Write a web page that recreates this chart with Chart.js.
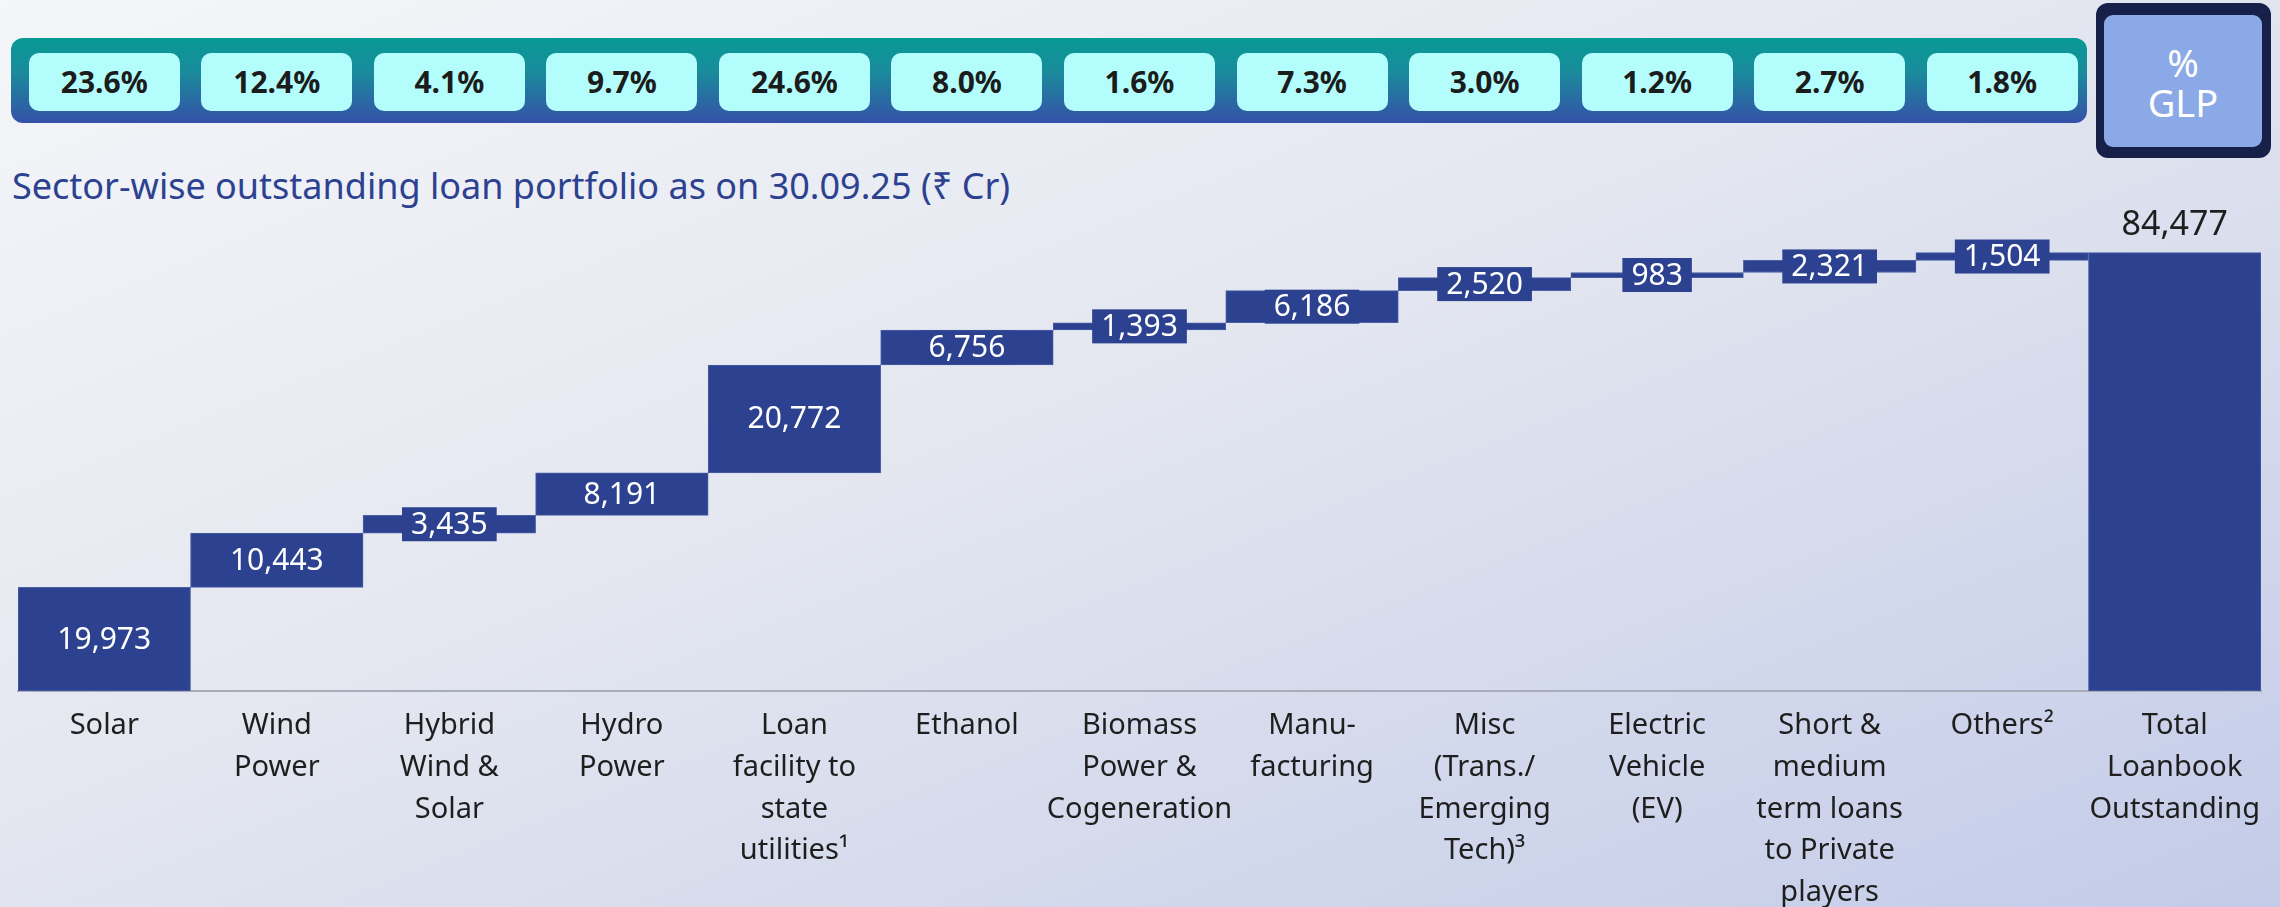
<!DOCTYPE html>
<html lang="en">

<head>
    <meta charset="UTF-8">
    <title>Sector-wise outstanding loan portfolio</title>
    <script src="https://cdn.jsdelivr.net/npm/chart.js"></script>
    <style>
        html, body {
            margin: 0;
            padding: 0;
        }

        body {
            width: 2280px;
            height: 907px;
            position: relative;
            overflow: hidden;
            font-family: "Noto Sans", "DejaVu Sans", sans-serif;
            background: linear-gradient(to bottom right, #f5f6f9 0%, #e4e7f0 45%, #c3cbe8 100%);
        }

        .banner {
            position: absolute;
            left: 11px;
            top: 38px;
            width: 2076px;
            height: 85px;
            border-radius: 12px;
            background: linear-gradient(to bottom, #079a94 0%, #1a8b9c 40%, #3550a8 100%);
        }

        .pill {
            position: absolute;
            top: 53px;
            width: 151px;
            height: 58px;
            border-radius: 10px;
            background: #b3fefc;
            color: #1c1c1c;
            font-weight: bold;
            font-size: 30px;
            line-height: 58px;
            text-align: center;
        }

        .glp {
            position: absolute;
            left: 2096px;
            top: 3px;
            width: 175px;
            height: 155px;
            border-radius: 12px;
            background: #172049;
        }

        .glp-inner {
            position: absolute;
            left: 8px;
            top: 12px;
            width: 158px;
            height: 132px;
            border-radius: 9px;
            background: #8aa9e6;
            color: #fff;
            font-size: 38px;
            line-height: 40px;
            text-align: center;
            padding-top: 27px;
            box-sizing: border-box;
        }

        .title {
            position: absolute;
            left: 12px;
            top: 161px;
            font-size: 36px;
            color: #2c4190;
            white-space: nowrap;
        }

        #grafico {
            position: absolute;
            left: 0;
            top: 0;
        }
    </style>
</head>

<body>
    <div class="banner"></div>
    <div id="pills"></div>
    <div class="glp"><div class="glp-inner">%<br>GLP</div></div>
    <div class="title">Sector-wise outstanding loan portfolio as on 30.09.25 (₹ Cr)</div>
    <canvas id="grafico" width="2280" height="907"></canvas>

    <script>
        // dados do grafico
        var setores = [
            'Solar',
            ['Wind', 'Power'],
            ['Hybrid', 'Wind &', 'Solar'],
            ['Hydro', 'Power'],
            ['Loan', 'facility to', 'state', 'utilities¹'],
            'Ethanol',
            ['Biomass', 'Power &', 'Cogeneration'],
            ['Manu-', 'facturing'],
            ['Misc', '(Trans./', 'Emerging', 'Tech)³'],
            ['Electric', 'Vehicle', '(EV)'],
            ['Short &', 'medium', 'term loans', 'to Private', 'players'],
            'Others²',
            ['Total', 'Loanbook', 'Outstanding']
        ];
        var valores = [19973, 10443, 3435, 8191, 20772, 6756, 1393, 6186, 2520, 983, 2321, 1504];
        var total = 84477;
        var percentGLP = ['23.6%', '12.4%', '4.1%', '9.7%', '24.6%', '8.0%', '1.6%', '7.3%', '3.0%', '1.2%', '2.7%', '1.8%'];

        var corBarra = '#2c4290';

        // monta as barras flutuantes (cascata)
        var barras = [];
        var acumulado = 0;
        for (let i = 0; i < valores.length; i++) {
            barras.push([acumulado, acumulado + valores[i]]);
            acumulado += valores[i];
        }
        barras.push([0, total]);
        var rotulos = valores.concat([total]);

        function formatar(n) {
            return n.toLocaleString('en-US');
        }

        // rotulos com caixa no meio de cada barra
        const caixaRotulos = {
            id: 'caixaRotulos',
            afterDatasetsDraw(chart) {
                const ctx = chart.ctx;
                const meta = chart.getDatasetMeta(0);
                ctx.save();
                ctx.textAlign = 'center';
                ctx.textBaseline = 'middle';
                meta.data.forEach((bar, i) => {
                    const txt = formatar(rotulos[i]);
                    if (i === rotulos.length - 1) {
                        ctx.font = '34px "Noto Sans", "DejaVu Sans", sans-serif';
                        ctx.fillStyle = '#1e1e1e';
                        ctx.fillText(txt, bar.x, bar.y - 27);
                        return;
                    }
                    ctx.font = '30px "Noto Sans", "DejaVu Sans", sans-serif';
                    const w = ctx.measureText(txt).width + 18;
                    const cy = (bar.y + bar.base) / 2;
                    ctx.fillStyle = corBarra;
                    ctx.fillRect(bar.x - w / 2, cy - 17, w, 34);
                    ctx.fillStyle = '#ffffff';
                    ctx.fillText(txt, bar.x, cy + 1);
                });
                ctx.restore();
            }
        };

        const ctx = document.getElementById('grafico').getContext('2d');
        const myChart = new Chart(ctx, {
            type: 'bar',
            data: {
                labels: setores,
                datasets: [{
                    data: barras,
                    backgroundColor: corBarra,
                    borderColor: '#4a5fa4',
                    borderWidth: 1,
                    borderSkipped: false,
                    barPercentage: 1,
                    categoryPercentage: 1
                }]
            },
            options: {
                responsive: false,
                animation: false,
                layout: {
                    padding: { left: 18, right: 19, top: 198, bottom: 0 }
                },
                plugins: {
                    legend: { display: false },
                    tooltip: { enabled: false }
                },
                scales: {
                    y: {
                        display: false,
                        min: 0,
                        max: 95000
                    },
                    x: {
                        grid: { display: false, drawTicks: false },
                        border: { display: true, color: '#a9adb9', width: 2 },
                        ticks: {
                            autoSkip: false,
                            maxRotation: 0,
                            padding: 14,
                            color: '#1e1e1e',
                            font: { family: '"Noto Sans", "DejaVu Sans", sans-serif', size: 29, lineHeight: 1.44 }
                        },
                        afterFit: function (scale) {
                            scale.height = 216;
                        }
                    }
                }
            },
            plugins: [caixaRotulos]
        });

        // pilulas de % GLP alinhadas com as categorias
        const xScale = myChart.scales.x;
        const divPills = document.getElementById('pills');
        percentGLP.forEach((p, i) => {
            const d = document.createElement('div');
            d.className = 'pill';
            d.style.left = (xScale.getPixelForValue(i) - 75.5) + 'px';
            d.textContent = p;
            divPills.appendChild(d);
        });
    </script>
</body>

</html>
